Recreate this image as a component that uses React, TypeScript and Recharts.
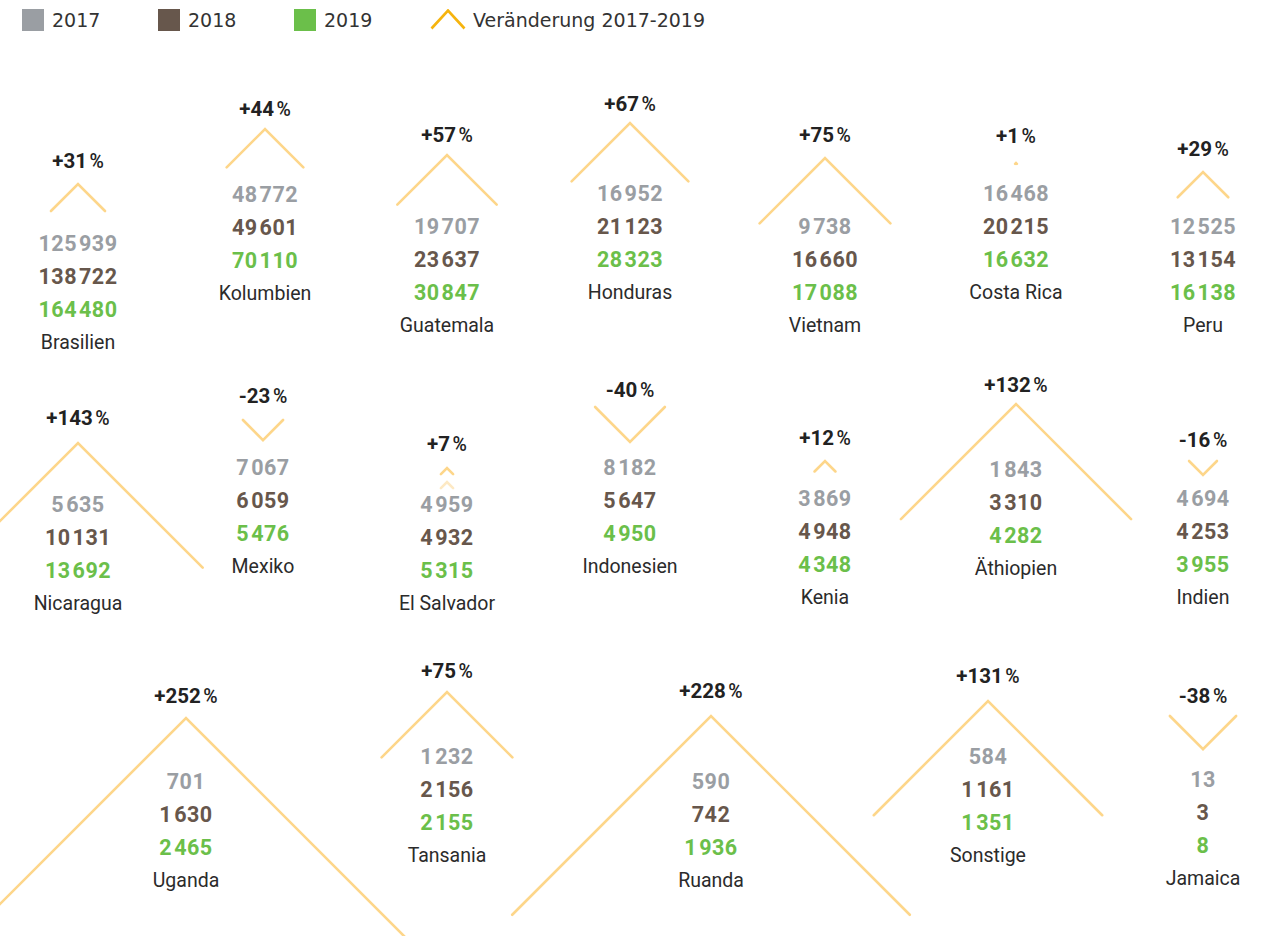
import React from 'react';
import { ScatterChart, Scatter, XAxis, YAxis, ZAxis, Legend } from 'recharts';

// ---------- data ----------
const countries = [
  'Brasilien', 'Kolumbien', 'Guatemala', 'Honduras', 'Vietnam', 'Costa Rica', 'Peru',
  'Nicaragua', 'Mexiko', 'El Salvador', 'Indonesien', 'Kenia', 'Äthiopien', 'Indien',
  'Uganda', 'Tansania', 'Ruanda', 'Sonstige', 'Jamaica',
];
const v2017 = [125939, 48772, 19707, 16952, 9738, 16468, 12525, 5635, 7067, 4959, 8182, 3869, 1843, 4694, 701, 1232, 590, 584, 13];
const v2018 = [138722, 49601, 23637, 21123, 16660, 20215, 13154, 10131, 6059, 4932, 5647, 4948, 3310, 4253, 1630, 2156, 742, 1161, 3];
const v2019 = [164480, 70110, 30847, 28323, 17088, 16632, 16138, 13692, 5476, 5315, 4950, 4348, 4282, 3955, 2465, 2155, 1936, 1351, 8];
const change = [31, 44, 57, 67, 75, 1, 29, 143, -23, 7, -40, 12, 132, -16, 252, 75, 228, 131, -38];

const seriesNames = ['2017', '2018', '2019'];
const changeLabel = 'Veränderung 2017-2019';

// ---------- layout (grid slots, in axis units) ----------
const slotX = [78, 265, 447, 630, 825, 1016, 1203, 78, 263, 447, 630, 825, 1016, 1203, 186, 447, 711, 988, 1203];
const labelY = [160, 108, 134, 103, 134, 135, 148, 417, 395, 443, 389, 437, 384, 439, 695, 670, 690, 675, 695];
const chevY = [184, 129, 155, 123, 158, 163, 172, 443, 420, 468, 407, 461, 404, 461, 718, 692, 716, 701, 716];
const valueY = [243, 194, 226, 193, 226, 193, 226, 504, 467, 504, 467, 498, 469, 498, 781, 756, 781, 756, 779];
const echoIndex = 9; // El Salvador shows a faint second chevron
const echoOffset = 14;

// ---------- styles ----------
const W = 1274;
const H = 936;
const COLORS = ['#9a9ea3', '#67574c', '#6bbf4a'];
const CHEV = '#fdd68a';
const CHEV_ECHO = '#fde9c4';
const CHEV_LEGEND = '#f6b40e';
const LINE = 33;
const NUM_FONT = 'Roboto, "Noto Sans", sans-serif';

const chevronData = countries.map((name, i) => ({ name, x: slotX[i], y: chevY[i], z: Math.abs(change[i]), pct: change[i] }));
const echoData = [{ name: countries[echoIndex], x: slotX[echoIndex], y: chevY[echoIndex] + echoOffset, z: Math.abs(change[echoIndex]), pct: change[echoIndex] }];
const labelData = countries.map((name, i) => ({ name, x: slotX[i], y: labelY[i], pct: change[i] }));
const valueData = countries.map((name, i) => ({ name, x: slotX[i], y: valueY[i], a: v2017[i], b: v2018[i], c: v2019[i] }));

const fmt = (v: number) => {
  const s = String(v);
  if (s.length <= 3) return <tspan>{s}</tspan>;
  return (
    <>
      <tspan>{s.slice(0, -3)}</tspan>
      <tspan dx={2}>{s.slice(-3)}</tspan>
    </>
  );
};

const makeChevron = (color: string) => (props: any) => {
  const { cx, cy, size, payload } = props;
  const s = Math.max(size || 0, 0.6);
  const d = payload.pct >= 0
    ? `M${cx - s},${cy + s}L${cx},${cy}L${cx + s},${cy + s}`
    : `M${cx - s},${cy}L${cx},${cy + s}L${cx + s},${cy}`;
  return <path d={d} fill="none" stroke={color} strokeWidth={2.6} strokeLinecap="round" strokeLinejoin="miter" />;
};

const PctLabel = (props: any) => {
  const { cx, cy, payload } = props;
  const sign = payload.pct >= 0 ? '+' : '-';
  return (
    <text x={cx} y={cy + 7.5} textAnchor="middle" fontFamily={NUM_FONT} fill="#222">
      <tspan fontSize={20.5} fontWeight={700}>{sign + Math.abs(payload.pct)}</tspan>
      <tspan dx={2.5} fontSize={19.5} fontWeight={500}>%</tspan>
    </text>
  );
};

const ValueStack = (props: any) => {
  const { cx, cy, payload } = props;
  const vals = [payload.a, payload.b, payload.c];
  return (
    <g>
      {vals.map((v, k) => (
        <text key={k} x={cx} y={cy + k * LINE + 7.6} textAnchor="middle" fontFamily={NUM_FONT}
          fontSize={21.5} fontWeight={700} letterSpacing={0.5} fill={COLORS[k]}>
          {fmt(v)}
        </text>
      ))}
      <text x={cx} y={cy + 3 * LINE + 6.5} textAnchor="middle" fontFamily={NUM_FONT}
        fontSize={19.5} fontWeight={400} fill="#2b2b2b">
        {payload.name}
      </text>
    </g>
  );
};

const LegendContent = () => (
  <div style={{ display: 'flex', alignItems: 'center', paddingLeft: 22, paddingTop: 9, fontFamily: '"DejaVu Sans", sans-serif', fontSize: 19, color: '#333' }}>
    {seriesNames.map((n, k) => (
      <div key={n} style={{ display: 'flex', alignItems: 'center', width: 136 }}>
        <div style={{ width: 22, height: 22, background: COLORS[k], marginRight: 8 }} />
        <span>{n}</span>
      </div>
    ))}
    <div style={{ display: 'flex', alignItems: 'center' }}>
      <svg width={37} height={22} style={{ marginRight: 6 }}>
        <path d="M1.5,19.5L18,1.5L34.5,19.5" fill="none" stroke={CHEV_LEGEND} strokeWidth={2.6} />
      </svg>
      <span>{changeLabel}</span>
    </div>
  </div>
);

export default function App() {
  return (
    <div style={{ position: 'absolute', left: 0, top: 0, width: W, height: H, background: '#fff', overflow: 'hidden' }}>
      <ScatterChart width={W} height={H} margin={{ top: 0, right: 0, bottom: 0, left: 0 }}>
        <XAxis type="number" dataKey="x" domain={[0, W]} hide />
        <YAxis type="number" dataKey="y" domain={[0, H]} reversed hide />
        <ZAxis type="number" dataKey="z" domain={[0, 252]} range={[0, 219.7]} />
        <Legend
          layout="horizontal"
          verticalAlign="middle"
          align="center"
          content={LegendContent}
          wrapperStyle={{ top: 0, left: 0, width: W }}
        />
        <Scatter name="chevron-echo" data={echoData} shape={makeChevron(CHEV_ECHO)} isAnimationActive={false} legendType="none" />
        <Scatter name="chevron" data={chevronData} shape={makeChevron(CHEV)} isAnimationActive={false} legendType="none" />
        <Scatter name="change" data={labelData} shape={PctLabel} isAnimationActive={false} legendType="none" />
        <Scatter name="values" data={valueData} shape={ValueStack} isAnimationActive={false} legendType="none" />
      </ScatterChart>
    </div>
  );
}
